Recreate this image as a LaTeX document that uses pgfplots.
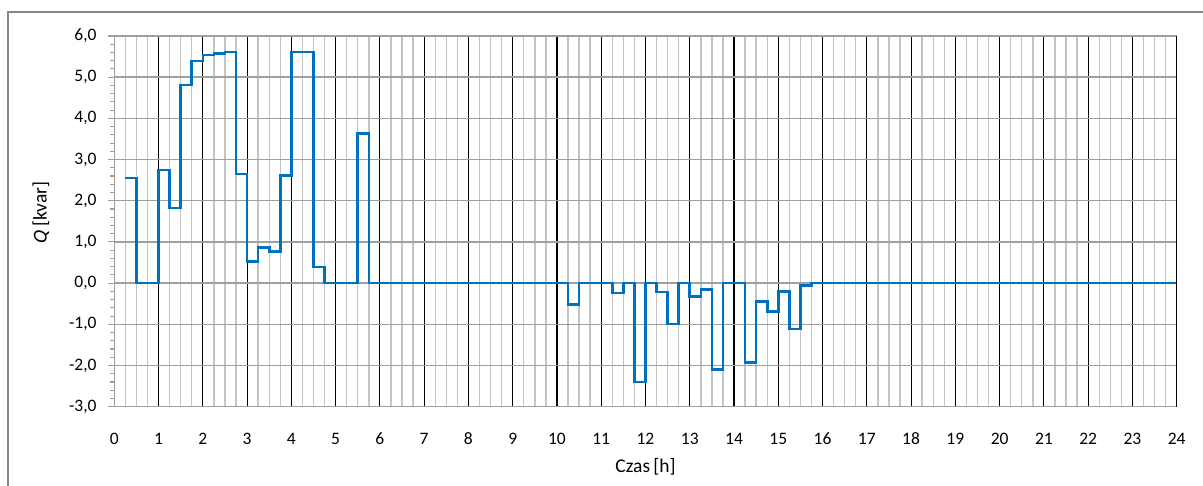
\documentclass[border=0pt]{standalone}
\usepackage{fontspec}
\setmainfont{Carlito}
\newfontface\qslant{Carlito}[FakeSlant=0.2]
\usepackage{pgfplots}
\pgfplotsset{compat=1.18}

\definecolor{qblue}{HTML}{0070C0}
\definecolor{framegray}{HTML}{868686}
\definecolor{hgrid}{HTML}{A0A0A0}
\definecolor{vminor}{HTML}{C4C4C4}

\begin{document}
\begin{tikzpicture}
  % page area and outer chart frame
  \path[use as bounding box] (0pt,0pt) rectangle (1203pt,486pt);
  \draw[framegray, line width=1.4pt] (8pt,0pt) -- (8pt,474pt) -- (1203pt,474pt);

  \begin{axis}[
    at={(114.3pt,79.3pt)}, anchor=south west,
    scale only axis,
    width=1062.4pt, height=370.7pt,
    xmin=0, xmax=24, ymin=-3, ymax=6,
    xtick distance=1, ytick distance=1,
    minor x tick num=3, minor y tick num=4,
    xmajorgrids, xminorgrids, ymajorgrids,
    major x grid style={black, line width=1.1pt},
    minor x grid style={vminor, line width=1.4pt},
    major y grid style={hgrid, line width=1.4pt},
    axis line style={hgrid, line width=1.4pt},
    xtick style={draw=none},
    ytick pos=left,
    ytick style={hgrid, line width=1.1pt},
    tick align=outside,
    major tick length=6pt, minor tick length=4pt,
    tick label style={font=\fontsize{17.5}{20}\selectfont},
    xticklabel style={anchor=north, inner sep=0pt, yshift=-20pt},
    yticklabel style={anchor=east, inner sep=0pt, xshift=-11.6pt},
    /pgf/number format/assume math mode=true,
    yticklabel={\pgfmathprintnumber[fixed, fixed zerofill, precision=1, use comma]{\tick}},
    xticklabel={\pgfmathprintnumber[int detect]{\tick}},
    xlabel={Czas\,[h]},
    ylabel={{\qslant Q} [kvar]},
    label style={font=\fontsize{19.5}{22}\selectfont},
    xlabel style={at={(axis description cs:0.5,-0.1627)}, anchor=center},
    ylabel style={at={(axis description cs:-0.069,0.5225)}, anchor=center, rotate=0},
    clip=false,
  ]
    % reactive power, 15-minute steps
    \addplot[const plot, qblue, line width=2.6pt, line join=miter] coordinates {
      (0.25,2.55) (0.50,0) (1.00,2.75) (1.25,1.82) (1.50,4.81) (1.75,5.39)
      (2.00,5.54) (2.25,5.57) (2.50,5.61) (2.75,2.65) (3.00,0.53) (3.25,0.87)
      (3.50,0.77) (3.75,2.62) (4.00,5.61) (4.50,0.39) (4.75,0) (5.50,3.64)
      (5.75,0) (10.25,-0.52) (10.50,0) (11.25,-0.24) (11.50,0) (11.75,-2.40)
      (12.00,0) (12.25,-0.22) (12.50,-0.99) (12.75,0) (13.00,-0.32) (13.25,-0.15)
      (13.50,-2.09) (13.75,0) (14.25,-1.93) (14.50,-0.45) (14.75,-0.69)
      (15.00,-0.20) (15.25,-1.11) (15.50,-0.06) (15.75,0) (24.00,0)
    };
    % right-hand border in the colour of the hour lines
    \draw[black, line width=1.1pt] (axis cs:24,-3) -- (axis cs:24,6);
  \end{axis}
\end{tikzpicture}
\end{document}
